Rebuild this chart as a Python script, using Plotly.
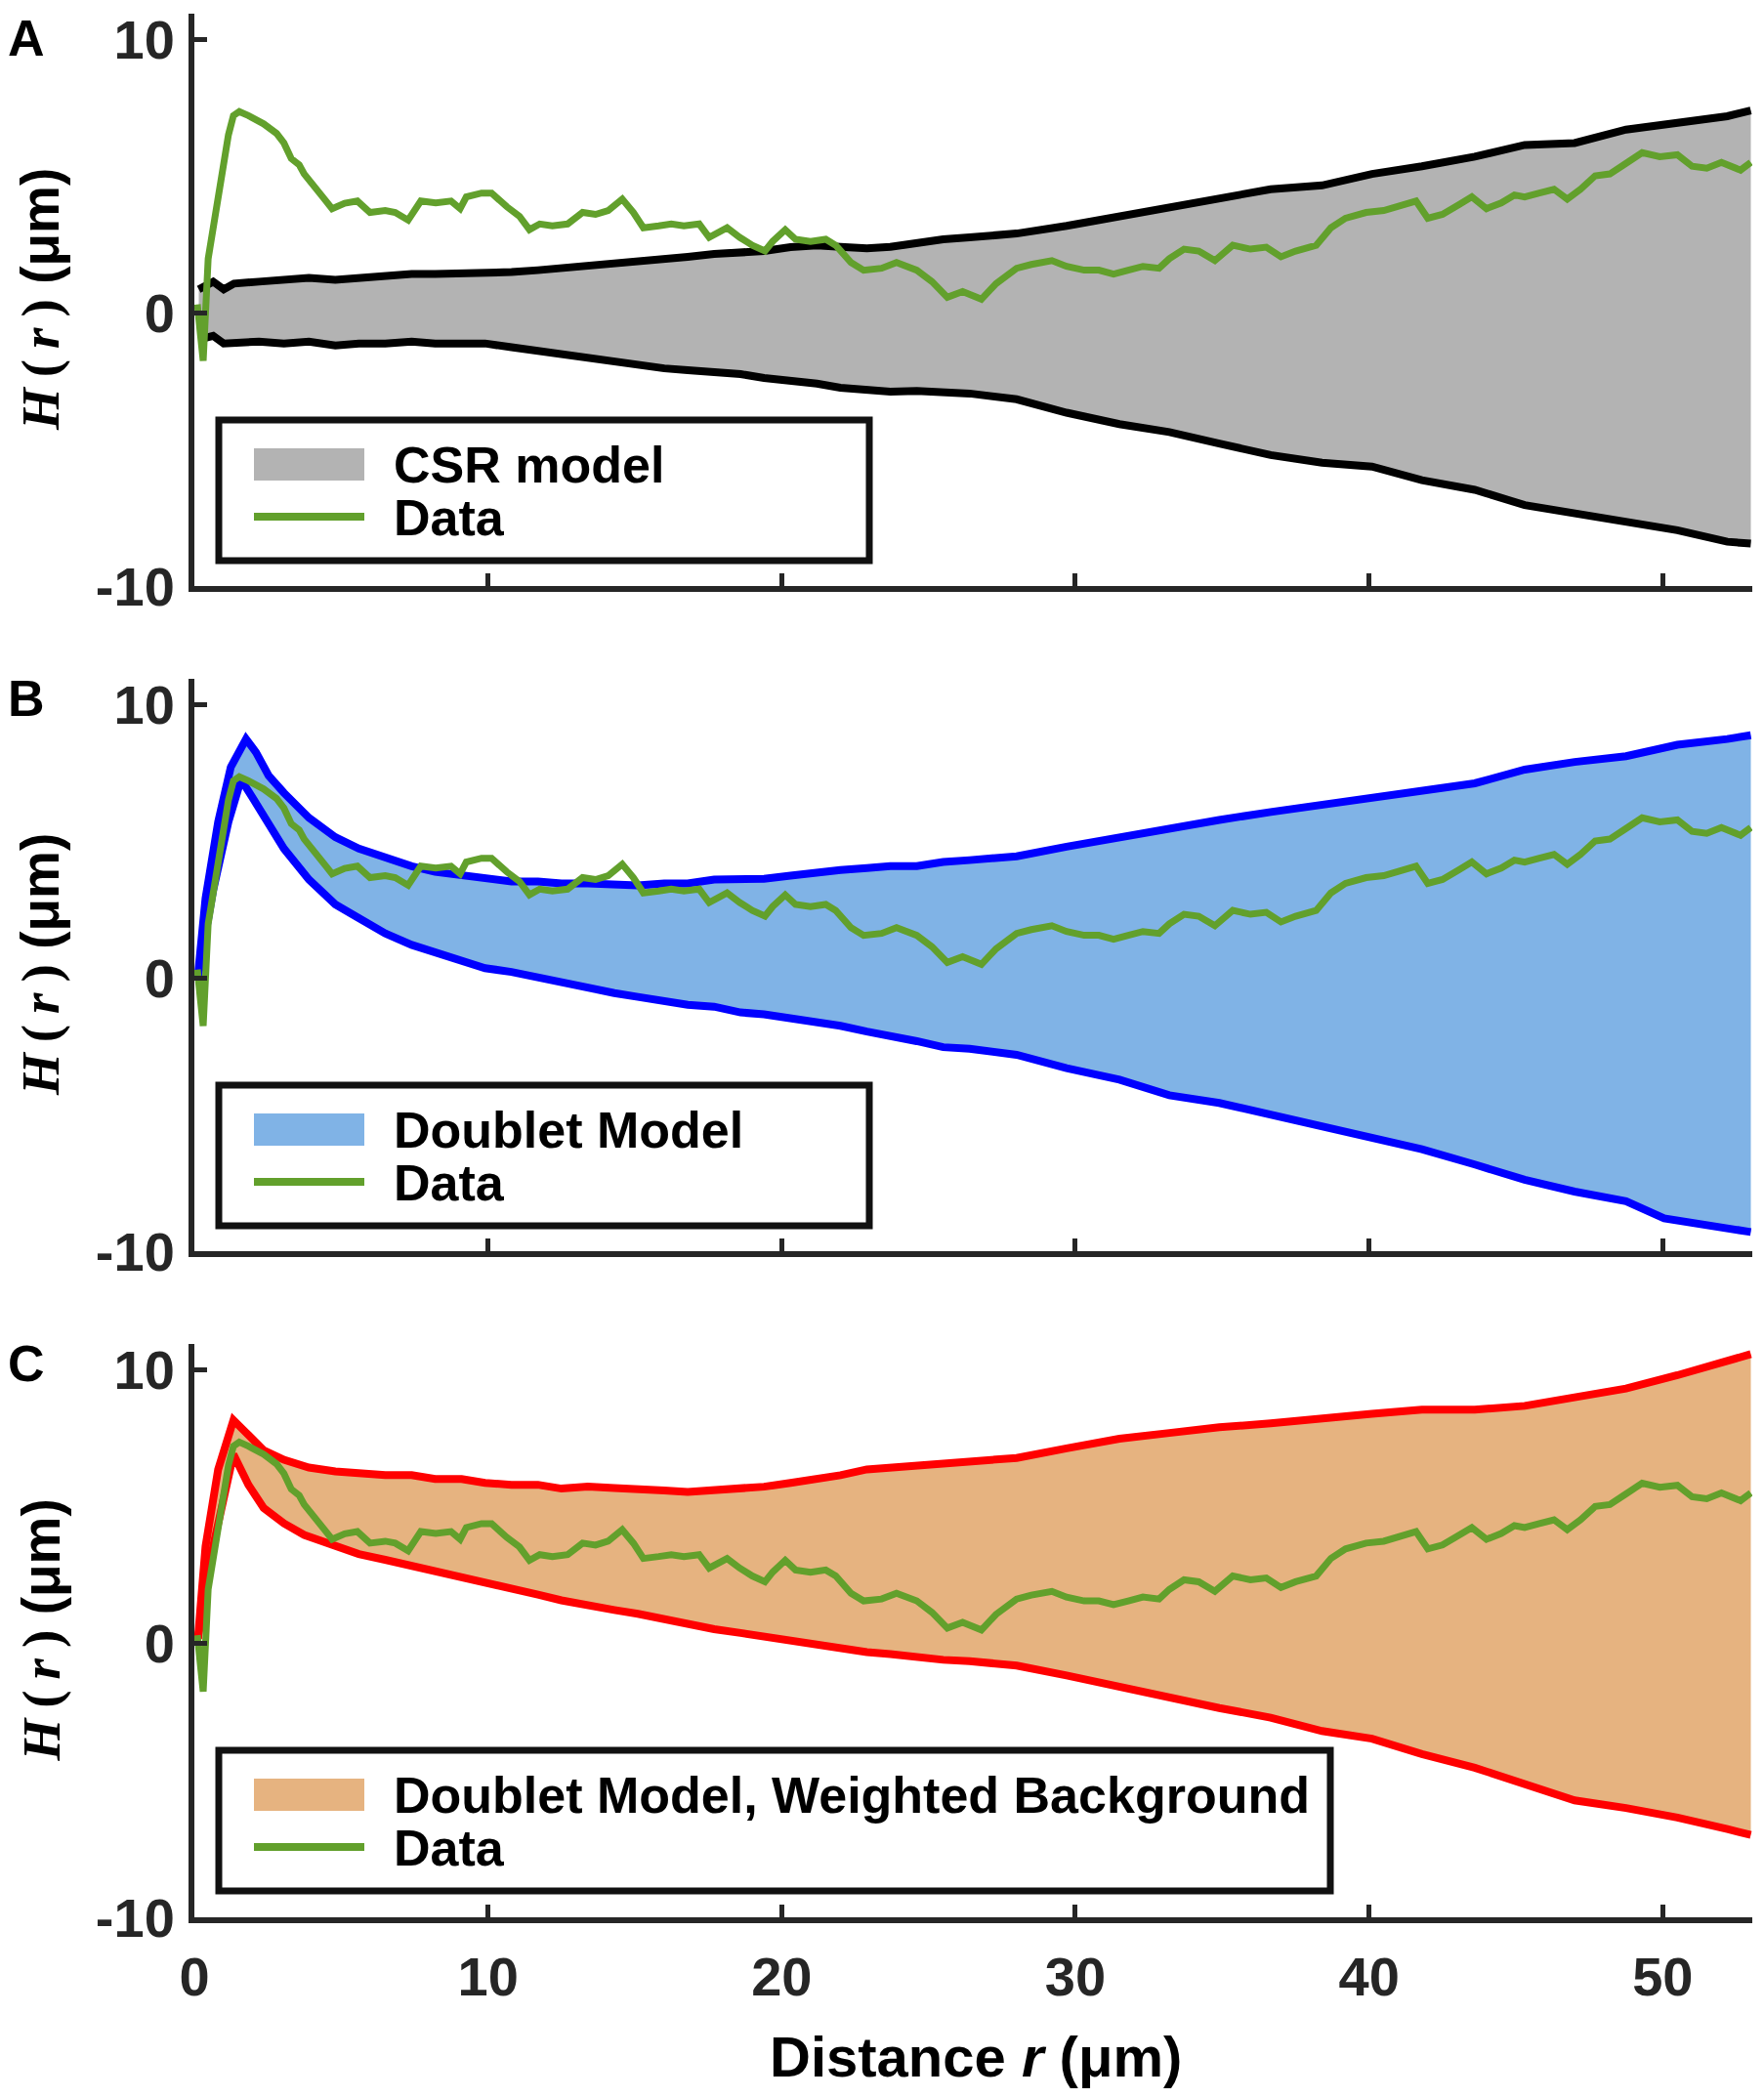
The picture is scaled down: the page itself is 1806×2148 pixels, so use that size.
import plotly.graph_objects as go

# ---------------- data ----------------
R_DATA = [0.1, 0.3, 0.47, 0.64, 0.9, 1.16, 1.33, 1.53, 1.84, 2.36, 2.8, 3.05, 3.3, 3.57, 3.74,
          4.09, 4.43, 4.69, 5.12, 5.55, 5.98, 6.5, 6.84, 7.28, 7.71, 8.22, 8.74, 9.05, 9.26,
          9.78, 10.12, 10.64, 11.07, 11.41, 11.76, 12.19, 12.71, 13.22, 13.66, 14.09, 14.57,
          14.95, 15.29, 15.81, 16.24, 16.67, 17.19, 17.53, 18.14, 18.57, 19.0, 19.43, 19.69,
          20.12, 20.47, 20.98, 21.5, 21.84, 22.36, 22.79, 23.4, 23.91, 24.26, 24.6, 25.12,
          25.64, 26.16, 26.8, 27.3, 28.0, 28.5, 29.2, 29.7, 30.3, 30.8, 31.3, 31.8, 32.3,
          32.85, 33.2, 33.7, 34.2, 34.75, 35.36, 35.96, 36.5, 37.0, 37.5, 38.2, 38.7, 39.2,
          39.9, 40.5, 41.0, 41.6, 42.0, 42.5, 43.05, 43.5, 44.0, 44.5, 44.95, 45.3, 45.8,
          46.3, 46.75, 47.2, 47.7, 48.2, 48.7, 49.3, 49.9, 50.5, 51.0, 51.5, 52.0, 52.65, 53.0]
H_DATA = [0.3, -1.76, 1.97, 3.1, 4.9, 6.5, 7.2, 7.35, 7.2, 6.9, 6.55, 6.2, 5.63, 5.4, 5.07,
          4.65, 4.15, 3.8, 4.0, 4.08, 3.66, 3.73, 3.66, 3.38, 4.08, 4.01, 4.08, 3.8, 4.23,
          4.37, 4.37, 3.87, 3.52, 3.03, 3.24, 3.17, 3.24, 3.66, 3.59, 3.73, 4.15,
          3.66, 3.10, 3.17, 3.24, 3.17, 3.24, 2.75, 3.10, 2.75, 2.46, 2.25, 2.6,
          3.03, 2.68, 2.6, 2.68, 2.46, 1.83, 1.55, 1.62, 1.83, 1.69, 1.55, 1.13,
          0.56, 0.77, 0.49, 1.06, 1.62, 1.76, 1.9, 1.69, 1.55, 1.55, 1.41, 1.55, 1.69,
          1.62, 1.97, 2.32, 2.25, 1.9, 2.46, 2.32, 2.39, 2.04, 2.25, 2.46, 3.10, 3.45,
          3.66, 3.73, 3.87, 4.08, 3.45, 3.59, 3.94, 4.23, 3.80, 4.01, 4.30, 4.23, 4.37,
          4.51, 4.15, 4.51, 5.0, 5.07, 5.42, 5.85, 5.70, 5.77, 5.35, 5.28, 5.49, 5.21, 5.49]

CSR_X = [0.15, 0.64, 1.0, 1.35, 2.2, 3.05, 3.9, 4.8, 5.6, 6.5, 7.4, 8.2, 9.1, 9.9, 10.8, 11.7,
         12.5, 13.4, 14.3, 15.1, 16.0, 16.8, 17.7, 18.6, 19.4, 20.3, 21.2, 22.0, 22.9, 23.7,
         24.6, 25.5, 26.4, 28.0, 29.7, 31.5, 33.2, 34.9, 36.65, 38.4, 40.1, 41.8, 43.6,
         45.3, 47.0, 48.75, 50.5, 52.2, 53.0]
CSR_UPPER = [0.85, 1.13, 0.85, 1.06, 1.13, 1.2, 1.27, 1.2, 1.27, 1.34, 1.41, 1.41, 1.41, 1.48,
             1.48, 1.55, 1.62, 1.69, 1.76, 1.9, 1.97, 2.04, 2.14, 2.18, 2.25, 2.39, 2.46, 2.4,
             2.35, 2.4, 2.55, 2.68, 2.75, 2.89, 3.17, 3.52, 3.8, 4.15, 4.51, 4.65, 5.07, 5.35,
             5.70, 6.13, 6.2, 6.69, 6.97, 7.18, 7.39]
CSR_LOWER = [-0.99, -0.85, -1.13, -1.1, -1.06, -1.13, -1.06, -1.2, -1.13, -1.13, -1.06, -1.13,
             -1.13, -1.13, -1.27, -1.41, -1.55, -1.69, -1.83, -1.97, -2.04, -2.11, -2.18, -2.25,
             -2.39, -2.46, -2.6, -2.75, -2.82, -2.89, -2.87, -2.92, -2.96, -3.17, -3.66, -4.08,
             -4.37, -4.79, -5.21, -5.49, -5.63, -6.13, -6.48, -7.04, -7.32, -7.61, -7.96,
             -8.38, -8.45]

DBL_UPPER_X = [0.12, 0.38, 0.81, 1.24, 1.76, 2.1, 2.53, 3.05, 3.9, 4.8, 5.6, 6.5, 7.4, 8.2, 9.1,
               9.9, 10.8, 11.7, 12.5, 13.4, 14.3, 15.1, 16.0, 16.8, 17.7, 18.6, 19.4, 20.3,
               21.2, 22.0, 22.9, 23.7, 24.6, 25.5, 26.4, 28.0, 29.7, 31.5, 33.2, 34.9, 36.65,
               38.4, 40.1, 41.8, 43.6, 45.3, 47.0, 48.75, 50.5, 52.2, 53.0]
DBL_UPPER = [0.07, 2.9, 5.7, 7.7, 8.73, 8.24, 7.39, 6.76, 5.85, 5.14, 4.72, 4.37, 4.08, 3.87,
             3.73, 3.59, 3.52, 3.52, 3.45, 3.45, 3.38, 3.38, 3.45, 3.45, 3.59, 3.59, 3.62,
             3.73, 3.87, 3.94, 4.01, 4.08, 4.08, 4.23, 4.3, 4.44, 4.79, 5.14, 5.42, 5.77,
             6.06, 6.34, 6.62, 6.83, 7.11, 7.61, 7.89, 8.1, 8.52, 8.73, 8.87]
DBL_LOWER_X = [0.12, 0.64, 1.16, 1.59, 2.0, 2.53, 3.05, 3.9, 4.8, 5.6, 6.5, 7.4, 8.2, 9.1, 9.9,
               10.8, 11.7, 12.5, 13.4, 14.3, 15.1, 16.0, 16.8, 17.7, 18.6, 19.4, 20.3, 21.2,
               22.0, 22.9, 23.7, 24.6, 25.5, 26.4, 28.0, 29.7, 31.5, 33.2, 34.9, 36.65, 38.4,
               40.1, 41.8, 43.6, 45.3, 47.0, 48.75, 50.05, 51.35, 53.0]
DBL_LOWER = [0.0, 3.2, 5.7, 7.25, 6.55, 5.56, 4.72, 3.59, 2.68, 2.18, 1.62, 1.2, 0.92, 0.63,
             0.35, 0.21, 0.0, -0.21, -0.35, -0.56, -0.7, -0.85, -0.99, -1.06, -1.27, -1.34,
             -1.48, -1.62, -1.76, -1.97, -2.11, -2.32, -2.54, -2.6, -2.82, -3.31, -3.73, -4.3,
             -4.58, -5.0, -5.42, -5.85, -6.27, -6.83, -7.39, -7.82, -8.17, -8.8, -9.01, -9.3]

WBG_UPPER_X = [0.12, 0.38, 0.81, 1.33, 1.84, 2.36, 3.05, 3.9, 4.8, 5.6, 6.5, 7.4, 8.2, 9.1, 9.9,
               10.8, 11.7, 12.5, 13.4, 14.3, 15.1, 16.0, 16.8, 17.7, 18.6, 19.4, 20.3, 21.2,
               22.0, 22.9, 23.7, 24.6, 25.5, 26.4, 28.0, 29.7, 31.5, 33.2, 34.9, 36.65, 38.4,
               40.1, 41.8, 43.6, 45.3, 47.0, 48.75, 50.5, 52.2, 53.0]
WBG_UPPER = [0.17, 3.54, 6.35, 8.15, 7.61, 7.05, 6.7, 6.42, 6.28, 6.21, 6.14, 6.14, 6.0, 6.0,
             5.86, 5.79, 5.79, 5.65, 5.72, 5.67, 5.65, 5.58, 5.53, 5.58, 5.65, 5.72, 5.86, 6.0,
             6.14, 6.35, 6.42, 6.49, 6.56, 6.6, 6.77, 7.12, 7.47, 7.68, 7.89, 8.03, 8.24, 8.38,
             8.53, 8.53, 8.67, 8.95, 9.3, 9.79, 10.35, 10.56]
WBG_LOWER_X = [0.12, 0.64, 1.33, 1.84, 2.36, 3.05, 3.74, 4.8, 5.6, 6.5, 7.4, 8.2, 9.1, 9.9, 10.8,
               11.7, 12.5, 13.4, 14.3, 15.1, 16.0, 16.8, 17.7, 18.6, 19.4, 20.3, 21.2, 22.0,
               22.9, 23.7, 24.6, 25.5, 26.4, 28.0, 29.7, 31.5, 33.2, 34.9, 36.65, 38.4, 40.1,
               41.8, 43.6, 45.3, 47.0, 48.75, 50.5, 52.2, 53.0]
WBG_LOWER = [0.17, 3.54, 6.9, 5.79, 4.94, 4.38, 3.96, 3.54, 3.26, 3.05, 2.84, 2.63, 2.42, 2.2,
             1.99, 1.78, 1.57, 1.43, 1.22, 1.08, 0.87, 0.66, 0.52, 0.38, 0.24, 0.1, -0.04,
             -0.18, -0.32, -0.39, -0.53, -0.6, -0.65, -0.81, -1.17, -1.59, -2.01, -2.36,
             -2.71, -3.2, -3.48, -4.04, -4.54, -5.1, -5.73, -6.01, -6.36, -6.78, -6.99]

X_TICKS = [0, 10, 20, 30, 40, 50]
X_TICK_LABELS = ["0", "10", "20", "30", "40", "50"]
Y_TICKS = [-10, 0, 10]
Y_TICK_LABELS = ["-10", "0", "10"]
PANEL_LABELS = ["A", "B", "C"]
MODEL_NAMES = ["CSR model", "Doublet Model", "Doublet Model, Weighted Background"]
DATA_NAME = "Data"

# ---------------- styling / geometry ----------------
W, H = 1806, 2148
OFF_X, OFF_Y = 8, 5  # page offset of the figure inside the browser window
FONT = "Liberation Sans, Arial, sans-serif"
SERIF = "Liberation Serif"
AXC = "#262626"
GREEN = "#62a02c"
FILLS = ["#b3b3b3", "#80b3e6", "#e6b380"]
EDGES = ["#000000", "#0000ff", "#ff0000"]
PLOT_L, PLOT_R = 199, 1794
TOPS = [11, 692, 1373]
BOTTOMS = [597, 1278, 1960]
LEG_RIGHT = [890, 890, 1362]
X_RANGE = [0, 53.05]
Y_RANGE = [-10, 10.93]


def px(p):
    return (p - OFF_X) / W


def py(p):
    return 1 - (p - OFF_Y) / H


bands = [
    (CSR_X, CSR_UPPER, CSR_X, CSR_LOWER),
    (DBL_UPPER_X, DBL_UPPER, DBL_LOWER_X, DBL_LOWER),
    (WBG_UPPER_X, WBG_UPPER, WBG_LOWER_X, WBG_LOWER),
]

fig = go.Figure()
for i, (ux, uy, lx, ly) in enumerate(bands):
    xa = "x" if i == 0 else f"x{i + 1}"
    ya = "y" if i == 0 else f"y{i + 1}"
    fig.add_trace(go.Scatter(
        x=list(lx) + list(ux)[::-1], y=list(ly) + list(uy)[::-1],
        fill="toself", fillcolor=FILLS[i], mode="lines",
        line=dict(width=0, color=FILLS[i]), xaxis=xa, yaxis=ya,
        showlegend=False, hoverinfo="skip"))
    fig.add_trace(go.Scatter(x=ux, y=uy, mode="lines", line=dict(color=EDGES[i], width=8),
                             xaxis=xa, yaxis=ya, showlegend=False))
    fig.add_trace(go.Scatter(x=lx, y=ly, mode="lines", line=dict(color=EDGES[i], width=8),
                             xaxis=xa, yaxis=ya, showlegend=False))
    fig.add_trace(go.Scatter(x=R_DATA, y=H_DATA, mode="lines", line=dict(color=GREEN, width=7),
                             xaxis=xa, yaxis=ya, showlegend=False, name=DATA_NAME))

layout = dict(width=W, height=H, margin=dict(l=0, r=0, t=0, b=0, pad=0, autoexpand=False),
              paper_bgcolor="white", plot_bgcolor="white", showlegend=False,
              template="none")

shapes = []
annotations = []
for i in range(3):
    sx = "" if i == 0 else str(i + 1)
    layout["xaxis" + sx] = dict(
        domain=[px(PLOT_L), px(PLOT_R)], range=X_RANGE, anchor="y" + sx,
        showline=True, linewidth=6, linecolor=AXC, mirror=False, automargin=False,
        ticks="inside", ticklen=13, tickwidth=5, tickcolor=AXC,
        tickvals=X_TICKS, ticktext=X_TICK_LABELS, showticklabels=(i == 2),
        tickfont=dict(family=FONT, size=56, color=AXC, weight="bold"),
        ticklabelstandoff=7, ticklabeloverflow="allow", showgrid=False, zeroline=False)
    layout["yaxis" + sx] = dict(
        domain=[py(BOTTOMS[i]), py(TOPS[i])], range=Y_RANGE, anchor="x" + sx,
        showline=True, linewidth=6, linecolor=AXC, mirror=False, automargin=False,
        ticks="inside", ticklen=13, tickwidth=5, tickcolor=AXC,
        tickvals=Y_TICKS, ticktext=Y_TICK_LABELS,
        tickfont=dict(family=FONT, size=56, color=AXC, weight="bold"),
        ticklabelstandoff=3, ticklabeloverflow="allow", showgrid=False, zeroline=False)

    y10 = TOPS[i] + 26
    # panel letter
    if i == 0:
        annotations.append(dict(text=PANEL_LABELS[i], x=px(27), y=1.0,
                                xref="paper", yref="paper", showarrow=False,
                                xanchor="center", yanchor="top",
                                font=dict(family=FONT, size=52, color="black", weight="bold")))
    else:
        annotations.append(dict(text=PANEL_LABELS[i], x=px(27), y=py(TOPS[i] + 20),
                                xref="paper", yref="paper", showarrow=False,
                                xanchor="center", yanchor="middle",
                                font=dict(family=FONT, size=52, color="black", weight="bold")))
    # y-axis title
    annotations.append(dict(
        text=(f'<span style="font-family:{SERIF}"><i>H</i>\u2009(\u2009<i>r</i>\u2009)</span>'
              ' (μm)'),
        x=0.0, y=py((TOPS[i] + BOTTOMS[i]) / 2), xref="paper", yref="paper",
        showarrow=False, textangle=-90, xanchor="left", yanchor="middle",
        font=dict(family=FONT, size=55, color="black", weight="bold")))
    # legend box
    lt = y10 + 390
    lb = lt + 144
    shapes.append(dict(type="rect", xref="paper", yref="paper",
                       x0=px(224), x1=px(LEG_RIGHT[i]), y0=py(lb), y1=py(lt),
                       line=dict(color="#111111", width=7), fillcolor="white", layer="above"))
    shapes.append(dict(type="rect", xref="paper", yref="paper",
                       x0=px(260), x1=px(373), y0=py(lt + 62), y1=py(lt + 29),
                       line=dict(width=0), fillcolor=FILLS[i], layer="above"))
    shapes.append(dict(type="line", xref="paper", yref="paper",
                       x0=px(260), x1=px(373), y0=py(lt + 99), y1=py(lt + 99),
                       line=dict(color=GREEN, width=8), layer="above"))
    annotations.append(dict(text=MODEL_NAMES[i], x=px(401), y=py(lt + 46),
                            xref="paper", yref="paper", showarrow=False,
                            xanchor="left", yanchor="middle",
                            font=dict(family=FONT, size=52, color="black", weight="bold")))
    annotations.append(dict(text=DATA_NAME, x=px(401), y=py(lt + 100),
                            xref="paper", yref="paper", showarrow=False,
                            xanchor="left", yanchor="middle",
                            font=dict(family=FONT, size=52, color="black", weight="bold")))

annotations.append(dict(text="Distance <i>r</i> (μm)", x=px(999), y=py(2102),
                        xref="paper", yref="paper", showarrow=False,
                        xanchor="center", yanchor="middle",
                        font=dict(family=FONT, size=58, color="black", weight="bold")))

layout["shapes"] = shapes
layout["annotations"] = annotations
fig.update_layout(**layout)
fig.write_html("out.html")
